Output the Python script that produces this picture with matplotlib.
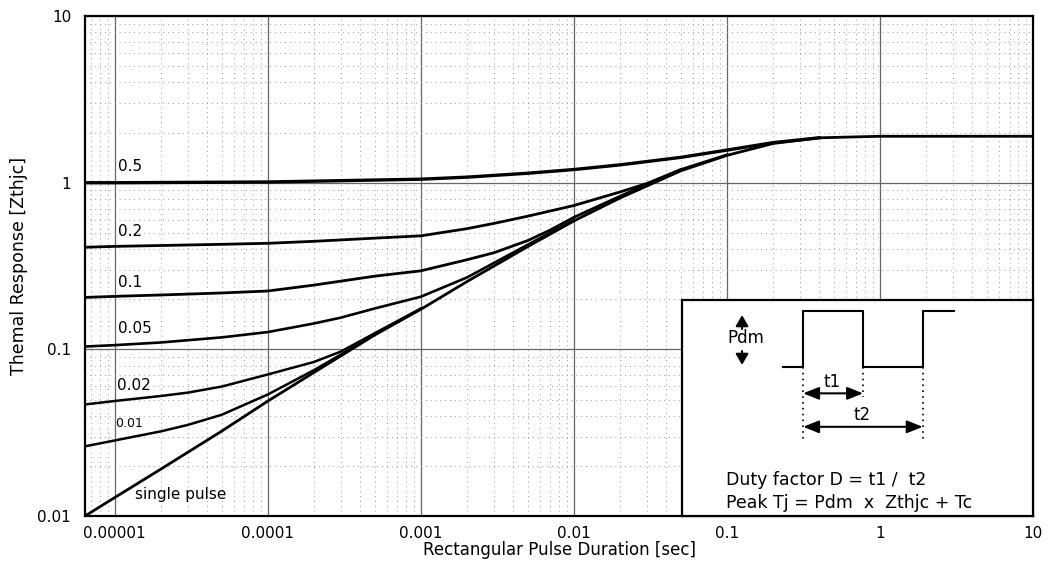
import matplotlib
matplotlib.use("Agg")
import matplotlib.pyplot as plt

# pulse duration (sec) and Zthjc for each duty factor curve
t_single = [6.4e-6, 1e-5, 2e-5, 5e-5, 1e-4, 2e-4, 5e-4, 1e-3, 2e-3, 5e-3,
            1e-2, 2e-2, 5e-2, 0.1, 0.2, 0.4, 1, 10]
z_single = [0.01, 0.0129, 0.0191, 0.0323, 0.0489, 0.0726, 0.122, 0.174, 0.255, 0.414,
            0.59, 0.81, 1.18, 1.46, 1.72, 1.86, 1.9, 1.9]

t_d001 = [6.4e-6, 1e-5, 2e-5, 3e-5, 5e-5, 1e-4, 2e-4, 3e-4, 5e-4]
z_d001 = [0.0262, 0.0284, 0.0322, 0.0352, 0.0405, 0.0536, 0.075, 0.093, 0.123]

t_d002 = [6.4e-6, 1e-5, 2e-5, 3e-5, 5e-5, 1e-4, 2e-4, 3e-4, 5e-4, 1e-3]
z_d002 = [0.0467, 0.049, 0.0525, 0.055, 0.0598, 0.0707, 0.084, 0.097, 0.125, 0.176]

t_d005 = [6.4e-6, 1e-5, 2e-5, 5e-5, 1e-4, 2e-4, 3e-4, 5e-4, 1e-3, 2e-3, 3e-3, 5e-3, 1e-2]
z_d005 = [0.104, 0.106, 0.11, 0.118, 0.127, 0.143, 0.155, 0.176, 0.207, 0.27, 0.33, 0.425, 0.595]

t_d01 = [6.4e-6, 1e-5, 2e-5, 5e-5, 1e-4, 2e-4, 5e-4, 1e-3, 2e-3, 3e-3, 5e-3, 7e-3,
         1e-2, 2e-2, 5e-2]
z_d01 = [0.205, 0.208, 0.212, 0.218, 0.224, 0.243, 0.275, 0.296, 0.345, 0.38, 0.45, 0.52,
         0.62, 0.83, 1.2]

t_d02 = [6.4e-6, 1e-5, 2e-5, 5e-5, 1e-4, 2e-4, 5e-4, 1e-3, 2e-3, 3e-3, 5e-3, 1e-2,
         2e-2, 3e-2, 5e-2, 0.1]
z_d02 = [0.41, 0.415, 0.42, 0.427, 0.433, 0.445, 0.465, 0.48, 0.53, 0.57, 0.63, 0.73,
         0.88, 0.99, 1.2, 1.47]

t_d05 = [6.4e-6, 1e-5, 1e-4, 1e-3, 2e-3, 5e-3, 1e-2, 2e-2, 5e-2, 0.1, 0.2, 0.4]
z_d05 = [1.0, 1.0, 1.01, 1.05, 1.08, 1.14, 1.2, 1.28, 1.42, 1.57, 1.74, 1.86]

curve_names = ["0.5", "0.2", "0.1", "0.05", "0.02", "0.01", "single pulse"]
label_t = [1.05e-5, 1.05e-5, 1.05e-5, 1.05e-5, 1.03e-5, 1.0e-5, 1.35e-5]
label_z = [1.25, 0.51, 0.253, 0.134, 0.0607, 0.0358, 0.0134]
label_size = [11, 11, 11, 11, 11, 9, 11]

xtick_vals = [1e-5, 1e-4, 1e-3, 1e-2, 1e-1, 1, 10]
xtick_labels = ["0.00001", "0.0001", "0.001", "0.01", "0.1", "1", "10"]
ytick_vals = [0.01, 0.1, 1, 10]
ytick_labels = ["0.01", "0.1", "1", "10"]

fig = plt.figure(figsize=(10.49, 5.74), dpi=100)
ax = fig.add_axes([0.081, 0.101, 0.904, 0.871])
ax.set_xscale("log")
ax.set_yscale("log")
ax.set_xlim(6.4e-6, 10)
ax.set_ylim(0.01, 10)

ax.grid(which="major", color="0.4", lw=0.9, ls="-")
ax.grid(which="minor", color="0.6", lw=0.7, ls=(0, (1, 4)))
ax.set_axisbelow(True)

ax.plot(t_single, z_single, color="black", lw=2.0)
ax.plot(t_d001, z_d001, color="black", lw=1.8)
ax.plot(t_d002, z_d002, color="black", lw=1.8)
ax.plot(t_d005, z_d005, color="black", lw=1.9)
ax.plot(t_d01, z_d01, color="black", lw=2.0)
ax.plot(t_d02, z_d02, color="black", lw=2.0)
ax.plot(t_d05, z_d05, color="black", lw=2.4)

for name, tx, zy, fs in zip(curve_names, label_t, label_z, label_size):
    ax.text(tx, zy, name, fontsize=fs, ha="left", va="center")

ax.set_xticks(xtick_vals, labels=xtick_labels)
ax.set_yticks(ytick_vals, labels=ytick_labels)
ax.tick_params(which="both", length=0)
ax.tick_params(axis="x", labelsize=11, pad=7)
ax.tick_params(axis="y", labelsize=11, pad=10)
for sp in ax.spines.values():
    sp.set_linewidth(1.6)

ax.set_xlabel("Rectangular Pulse Duration [sec]", fontsize=12)
ax.set_ylabel("Themal Response [Zthjc]", fontsize=12.5)
ax.xaxis.set_label_coords(0.5, -0.05)
ax.yaxis.set_label_coords(-0.06, 0.5)

# duty cycle sketch in the lower right corner
ins = ax.inset_axes([0.630, 0.0, 0.370, 0.432])
ins.set_xlim(0, 1)
ins.set_ylim(0, 1)
ins.set_xticks([])
ins.set_yticks([])
ins.set_facecolor("white")
for sp in ins.spines.values():
    sp.set_linewidth(1.6)

wave_u = [0.287, 0.344, 0.344, 0.515, 0.515, 0.685, 0.685, 0.773]
wave_v = [0.691, 0.691, 0.949, 0.949, 0.691, 0.691, 0.949, 0.949]
ins.plot(wave_u, wave_v, color="black", lw=1.5)

for u, vtop in [(0.344, 0.352), (0.515, 0.552), (0.685, 0.352)]:
    ins.plot([u, u], [0.691, vtop], color="black", lw=1.2, ls=(0, (1, 2.5)))

head = "-|>,head_length=0.65,head_width=0.38"
ins.annotate("", xy=(0.170, 0.930), xytext=(0.170, 0.866),
             arrowprops=dict(arrowstyle=head, color="black", lw=1.5,
                             shrinkA=0, shrinkB=0))
ins.annotate("", xy=(0.170, 0.700), xytext=(0.170, 0.764),
             arrowprops=dict(arrowstyle=head, color="black", lw=1.5,
                             shrinkA=0, shrinkB=0))
ins.text(0.182, 0.824, "Pdm", fontsize=12, ha="center", va="center")

both = "<|-|>,head_length=0.95,head_width=0.38"
ins.annotate("", xy=(0.344, 0.568), xytext=(0.515, 0.568),
             arrowprops=dict(arrowstyle=both, color="black", lw=1.5,
                             shrinkA=0, shrinkB=0))
ins.text(0.427, 0.620, "t1", fontsize=12, ha="center", va="center")
ins.annotate("", xy=(0.344, 0.413), xytext=(0.685, 0.413),
             arrowprops=dict(arrowstyle=both, color="black", lw=1.5,
                             shrinkA=0, shrinkB=0))
ins.text(0.513, 0.466, "t2", fontsize=12, ha="center", va="center")

ins.text(0.125, 0.167, "Duty factor D = t1 /  t2", fontsize=12.5, ha="left", va="center")
ins.text(0.125, 0.060, "Peak Tj = Pdm  x  Zthjc + Tc", fontsize=12.5, ha="left", va="center")

fig.savefig("out.png", dpi=100)
